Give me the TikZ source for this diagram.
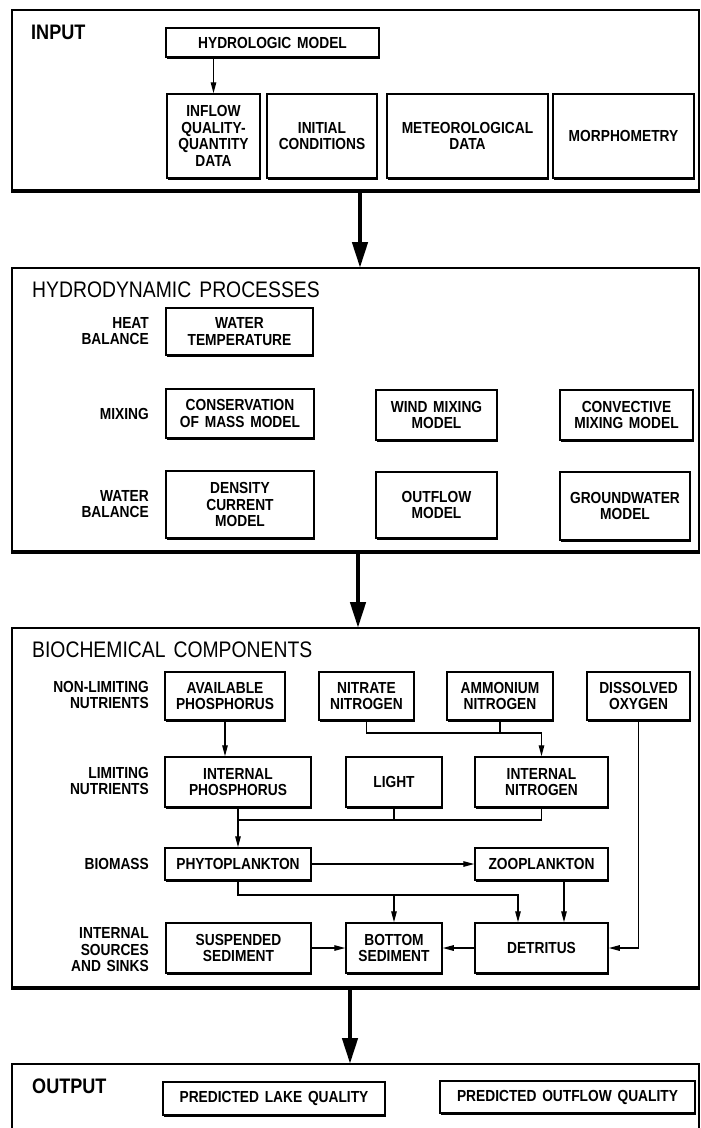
\documentclass[tikz,border=0pt]{standalone}
\usepackage{fontspec}
\setmainfont[FakeStretch=0.86,WordSpace=1.5]{Liberation Sans}
\usetikzlibrary{arrows.meta,shadows}

\begin{document}
\begin{tikzpicture}[x=1pt,y=-1pt,
  blk/.style={draw=black,fill=white,line width=1.5pt,align=center,inner sep=1pt,
    font=\fontsize{16}{16.5}\selectfont\bfseries,
    drop shadow={shadow xshift=1.3pt,shadow yshift=-2pt,opacity=1,fill=black}},
  lbl/.style={anchor=east,align=right,inner sep=0pt,font=\fontsize{16}{16.5}\selectfont\bfseries},
  ttl/.style={anchor=west,inner sep=0pt,font=\fontsize{22.5}{24}\selectfont},
  sec/.style={anchor=west,inner sep=0pt,font=\fontsize{21}{23}\selectfont\bfseries},
  frame/.style={draw=black,line width=1.5pt},
  flow/.style={draw=black,line width=1.3pt,-{Triangle[length=11pt,width=5.5pt]}},
  link/.style={draw=black,line width=1.3pt},
  big/.style={draw=black,line width=4.5pt,-{Triangle[length=26pt,width=15pt]}}]
\useasboundingbox (0,0) rectangle (701,1128);

% input
\draw[frame] (12,10) rectangle (699,191);
\draw[line width=4pt] (11,191) -- (700,191);
\node[sec] (input) at (31,32) {INPUT};
\node[blk,minimum width=213pt,minimum height=29pt] (hydro) at (272.5,42.5) {HYDROLOGIC MODEL};
\node[blk,minimum width=93pt,minimum height=84pt] (inflow) at (213.5,136) {INFLOW\\QUALITY-\\QUANTITY\\DATA};
\node[blk,minimum width=110pt,minimum height=84pt] (initial) at (322,136) {INITIAL\\CONDITIONS};
\node[blk,minimum width=161pt,minimum height=84pt] (meteo) at (467.5,136) {METEOROLOGICAL\\DATA};
\node[blk,minimum width=141pt,minimum height=84pt] (morph) at (623.5,136) {MORPHOMETRY};
\draw[flow] (inflow.north |- hydro.south) -- (inflow.north);

\coordinate (a1) at (360,193);
\coordinate (a2) at (360,268);
\draw[big] (a1) -- (a2);

% hydrodynamic processes
\draw[frame] (12,268) rectangle (699,552);
\draw[line width=4pt] (11,552) -- (700,552);
\node[ttl] (hydtitle) at (32,290) {HYDRODYNAMIC PROCESSES};
\node[lbl] (heat) at (149,331) {HEAT\\BALANCE};
\node[lbl] (mixing) at (149,414) {MIXING};
\node[lbl] (wbal) at (149,504) {WATER\\BALANCE};
\node[blk,minimum width=147pt,minimum height=47pt] (wtemp) at (239.5,331.5) {WATER\\TEMPERATURE};
\node[blk,minimum width=148pt,minimum height=49pt] (cons) at (240,413.5) {CONSERVATION\\OF MASS MODEL};
\node[blk,minimum width=121pt,minimum height=50pt] (wind) at (436.5,415) {WIND MIXING\\MODEL};
\node[blk,minimum width=133pt,minimum height=50pt] (conv) at (626.5,415) {CONVECTIVE\\MIXING MODEL};
\node[blk,minimum width=148pt,minimum height=67pt] (dens) at (240,504.5) {DENSITY\\CURRENT\\MODEL};
\node[blk,minimum width=121pt,minimum height=66pt] (outfl) at (436.5,505) {OUTFLOW\\MODEL};
\node[blk,minimum width=130pt,minimum height=68pt] (ground) at (625,506) {GROUNDWATER\\MODEL};

\coordinate (b1) at (358,554);
\coordinate (b2) at (358,628);
\draw[big] (b1) -- (b2);

% biochemical components
\draw[frame] (12,628) rectangle (699,988);
\draw[line width=4pt] (11,988) -- (700,988);
\node[ttl] (biotitle) at (32,650) {BIOCHEMICAL COMPONENTS};
\node[lbl] (nonlim) at (149,695) {NON-LIMITING\\NUTRIENTS};
\node[lbl] (limit) at (149,781) {LIMITING\\NUTRIENTS};
\node[lbl] (biomass) at (149,864) {BIOMASS};
\node[lbl] (sources) at (149,950) {INTERNAL\\SOURCES\\AND SINKS};
\node[blk,minimum width=120pt,minimum height=48pt] (avail) at (225,696) {AVAILABLE\\PHOSPHORUS};
\node[blk,minimum width=95pt,minimum height=48pt] (nitrate) at (366.5,696) {NITRATE\\NITROGEN};
\node[blk,minimum width=106pt,minimum height=48pt] (ammon) at (500,696) {AMMONIUM\\NITROGEN};
\node[blk,minimum width=103pt,minimum height=48pt] (diss) at (638.5,696) {DISSOLVED\\OXYGEN};
\node[blk,minimum width=146pt,minimum height=50pt] (intP) at (238,782) {INTERNAL\\PHOSPHORUS};
\node[blk,minimum width=96pt,minimum height=50pt] (light) at (394,782) {LIGHT};
\node[blk,minimum width=133pt,minimum height=50pt] (intN) at (541.5,782) {INTERNAL\\NITROGEN};
\node[blk,minimum width=146pt,minimum height=32pt] (phyto) at (238,864) {PHYTOPLANKTON};
\node[blk,minimum width=133pt,minimum height=32pt] (zoo) at (541.5,864) {ZOOPLANKTON};
\node[blk,minimum width=145pt,minimum height=50pt] (susp) at (238.5,948) {SUSPENDED\\SEDIMENT};
\node[blk,minimum width=96pt,minimum height=50pt] (bottom) at (394,948) {BOTTOM\\SEDIMENT};
\node[blk,minimum width=133pt,minimum height=50pt] (det) at (541.5,948) {DETRITUS};

\draw[flow] (avail.south) -- (avail.south |- intP.north);
\coordinate (nj) at (541.5,733);
\draw[link] (nitrate.south) |- (nj);
\draw[link] (ammon.south) -- (ammon.south |- nj);
\draw[flow] (nj) -- (intN.north);
\coordinate (lj) at (238,820);
\draw[flow] (intP.south) -- (phyto.north);
\draw[link] (light.south) -- (light.south |- lj);
\draw[link] (intN.south) |- (lj);
\draw[flow] (phyto.east) -- (zoo.west);
\coordinate (sj) at (518,895);
\draw[flow] (phyto.south) |- (sj) -- (sj |- det.north);
\draw[flow] (bottom.north |- sj) -- (bottom.north);
\draw[flow] ([xshift=22.5pt]zoo.south) -- ([xshift=22.5pt]det.north);
\draw[flow] (diss.south) |- (det.east);
\draw[flow] (susp.east) -- (bottom.west);
\draw[flow] (det.west) -- (bottom.east);

\coordinate (c1) at (350,990);
\coordinate (c2) at (350,1064);
\draw[big] (c1) -- (c2);

% output
\draw[frame] (12,1130) -- (12,1064) -- (699,1064) -- (699,1130);
\node[sec] (output) at (32,1086) {OUTPUT};
\node[blk,minimum width=222pt,minimum height=33pt] (lake) at (274,1098.5) {PREDICTED LAKE QUALITY};
\node[blk,minimum width=255pt,minimum height=32pt] (outq) at (567.5,1097) {PREDICTED OUTFLOW QUALITY};
\end{tikzpicture}
\end{document}
